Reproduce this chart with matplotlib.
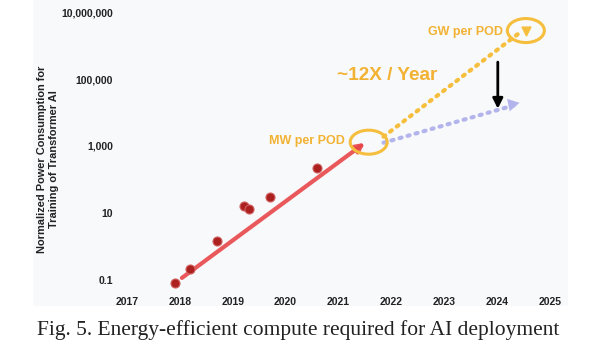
import numpy as np
import matplotlib.pyplot as plt
import matplotlib.transforms as mtransforms
from matplotlib.patches import Ellipse, Rectangle
from matplotlib.ticker import FixedLocator, FixedFormatter

# data
years = [2017.91, 2018.19, 2018.70, 2019.21, 2019.30, 2019.70, 2020.60]
power = [0.08, 0.21, 1.45, 16, 13, 30, 220]

trend_x = [2018.04, 2021.50]
trend_y = [0.115, 1250]

gw_x = [2021.85, 2024.45]
gw_y = [1900, 2.6e6]
eff_x = [2021.85, 2024.35]
eff_y = [1250, 17000]

mw_pod = (2021.57, 1300)
gw_pod = (2024.54, 2.8e6)

drop_x = 2024.01
drop_y = [3.2e5, 13000]

yticks = [0.1, 10, 1000, 1e5, 1e7]
ylabels = ["0.1", "10", "1,000", "100,000", "10,000,000"]
xticks = list(range(2017, 2026))

yellow = "#F5BE3C"
yellow_txt = "#F2B233"
purple = "#B4B4EC"
red_line = "#E8474A"
dot_col = "#AC2020"
sans = "Liberation Sans"

fig = plt.figure(figsize=(5.96, 3.59), dpi=100)
fig.patches.append(Rectangle((33 / 596, 1 - 306 / 359), 535 / 596, 306 / 359,
                             transform=fig.transFigure, facecolor="#F8F9FB",
                             edgecolor="none", zorder=-10))

ax = fig.add_axes([120 / 596, 1 - 290 / 359, 445 / 596, 285 / 359])
ax.set_zorder(1)
ax.set_facecolor("none")
ax.set_yscale("log")
ax.set_xlim(2016.87, 2025.28)
ax.set_ylim(10 ** -1.30, 10 ** 7.21)
for s in ax.spines.values():
    s.set_visible(False)

ax.yaxis.set_major_locator(FixedLocator(yticks))
ax.yaxis.set_major_formatter(FixedFormatter(ylabels))
ax.yaxis.set_minor_locator(FixedLocator([]))
ax.set_xticks(xticks)
ax.tick_params(length=0, labelsize=7.5, labelcolor="#222222", pad=5)
for t in ax.get_xticklabels() + ax.get_yticklabels():
    t.set_fontweight("bold")
    t.set_family(sans)

fig.text(48 / 596, 1 - 159 / 359,
         "Normalized Power Consumption for\nTraining of Transformer AI",
         rotation=90, ha="center", va="center", fontsize=7.9, fontweight="bold",
         family=sans, color="#222222", linespacing=1.2)

# trend line
ax.annotate("", xy=(trend_x[1], trend_y[1]), xytext=(trend_x[0], trend_y[0]),
            arrowprops=dict(arrowstyle="-|>,head_length=0.5,head_width=0.25",
                            color=red_line, lw=3, alpha=0.9, shrinkA=0, shrinkB=0))
ax.scatter(years, power, s=42, color=dot_col, edgecolor="#D06060", linewidth=0.8, zorder=5)

# projections
ax.plot(gw_x, gw_y, color=yellow, lw=3, linestyle=(0, (0.5, 1.5)),
        dash_capstyle="round")
ax.plot(eff_x, eff_y, color=purple, lw=3, linestyle=(0, (0.5, 1.5)),
        dash_capstyle="round")
ax.annotate("", xy=(2024.42, 19500), xytext=(2024.2, 16500),
            arrowprops=dict(arrowstyle="-|>,head_length=0.8,head_width=0.45",
                            color=purple, lw=0.1, shrinkA=0, shrinkB=0))
ax.scatter([gw_pod[0]], [gw_pod[1] * 0.95], marker="v", s=40, color=yellow, zorder=5)

ax.annotate("", xy=(drop_x, drop_y[1]), xytext=(drop_x, drop_y[0]),
            arrowprops=dict(arrowstyle="-|>,head_length=0.6,head_width=0.3",
                            color="black", lw=2, shrinkA=0, shrinkB=0))

# ellipses around the POD markers, sized in inches
for (cx, cy) in [mw_pod, gw_pod]:
    tr = fig.dpi_scale_trans + mtransforms.ScaledTranslation(cx, cy, ax.transData)
    ax.add_patch(Ellipse((0, 0), 0.37, 0.24, transform=tr, fill=False,
                         edgecolor=yellow, lw=2.2, zorder=6))

ax.text(2021.12, 1400, "MW per POD", ha="right", va="center", fontsize=9,
        fontweight="bold", family=sans, color=yellow_txt)
ax.text(2024.11, 2.6e6, "GW per POD", ha="right", va="center", fontsize=9,
        fontweight="bold", family=sans, color=yellow_txt)
ax.text(2020.98, 1.3e5, "~12X / Year", ha="left", va="center", fontsize=13.7,
        fontweight="bold", family=sans, color=yellow_txt)

fig.text(0.5, 1 - 330 / 359, "Fig. 5. Energy-efficient compute required for AI deployment",
         ha="center", va="center", fontsize=15.5, family="Liberation Serif",
         color="#222222")

fig.savefig("out.png", dpi=100)
